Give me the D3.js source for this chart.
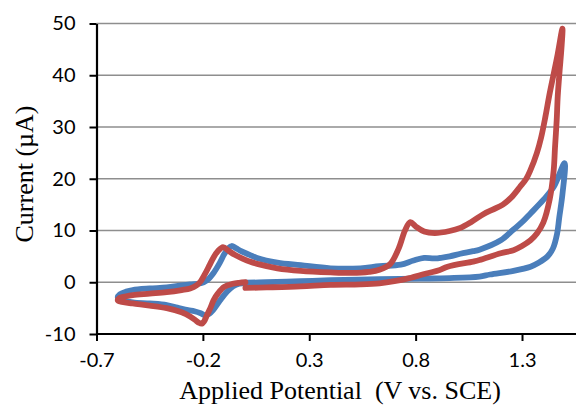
<!DOCTYPE html>
<html>
<head>
<meta charset="utf-8">
<script src="https://cdn.jsdelivr.net/npm/d3@7"></script>
<style>
  html, body { margin: 0; padding: 0; background: #fff; }
  svg { display: block; }
</style>
</head>
<body>
<svg id="chart" width="576" height="405"></svg>
<script>
// Cyclic voltammograms: potential (V vs. SCE) and current (µA), in scan order
const bluePotential = [
  0.00, -0.03, -0.058, -0.086, -0.119, -0.152, -0.17, -0.19, -0.21, -0.24, -0.27, -0.32, -0.37, -0.45, -0.53, -0.58, -0.60,
  -0.59, -0.56, -0.53, -0.45, -0.37, -0.30, -0.26, -0.21, -0.18, -0.15, -0.12, -0.10, -0.08, -0.065, -0.045, -0.02, 0.02, 0.055,
  0.15, 0.26, 0.40, 0.54, 0.63, 0.73, 0.79, 0.84, 0.89, 0.96, 1.01, 1.07, 1.10, 1.20, 1.26, 1.30, 1.34, 1.40, 1.45, 1.50,
  1.49, 1.475, 1.465, 1.445, 1.42, 1.38, 1.34, 1.26, 1.15, 1.10, 0.96, 0.82, 0.63, 0.40, 0.26, 0.10, 0.00
];
const blueCurrent = [
  -0.1, -0.3, -0.8, -1.8, -3.5, -5.4, -6.1, -6.4, -6.0, -5.6, -5.4, -4.9, -4.4, -4.1, -3.9, -3.4, -2.9,
  -2.3, -1.8, -1.5, -1.2, -1.0, -0.6, -0.4, -0.2, 0.4, 1.8, 3.8, 5.4, 6.6, 7.0, 6.6, 6.0, 5.3, 4.7,
  3.8, 3.3, 2.7, 2.7, 3.1, 3.4, 4.2, 4.7, 4.6, 5.0, 5.5, 6.0, 6.3, 8.1, 10.2, 11.6, 13.3, 15.9, 18.5, 23.0,
  17.0, 12.5, 9.4, 6.5, 5.0, 3.8, 3.0, 2.2, 1.5, 1.1, 0.8, 0.7, 0.6, 0.4, 0.2, 0.0, -0.1
];

const redPotential = [
  0.00, -0.03, -0.06, -0.10, -0.13, -0.15, -0.165, -0.18, -0.195, -0.205, -0.22, -0.23, -0.26, -0.30, -0.37, -0.45, -0.53, -0.58, -0.60,
  -0.59, -0.56, -0.53, -0.45, -0.37, -0.30, -0.26, -0.23, -0.21, -0.19, -0.17, -0.15, -0.13, -0.105, -0.08, -0.05, -0.02, 0.02, 0.06,
  0.15, 0.26, 0.40, 0.50, 0.58, 0.63, 0.68, 0.72, 0.75, 0.775, 0.80, 0.84, 0.89, 0.96, 1.01, 1.06, 1.12, 1.16, 1.21, 1.25, 1.29,
  1.32, 1.34, 1.37, 1.39, 1.41, 1.43, 1.465, 1.49,
  1.485, 1.477, 1.468, 1.463, 1.455, 1.449, 1.43, 1.40, 1.37, 1.34, 1.30, 1.26, 1.20, 1.10, 1.07, 0.95, 0.91, 0.85, 0.77, 0.70,
  0.63, 0.54, 0.40, 0.26, 0.10, 0.00
];
const redCurrent = [
  0.0, -0.1, -0.3, -0.9, -2.2, -3.5, -5.0, -6.3, -7.6, -8.0, -7.8, -7.5, -6.6, -5.8, -5.0, -4.5, -4.1, -3.8, -3.5,
  -3.0, -2.7, -2.5, -2.2, -1.9, -1.5, -1.2, -0.6, 0.2, 1.6, 3.2, 4.8, 6.0, 6.8, 6.1, 5.3, 4.7, 4.0, 3.5,
  2.7, 2.2, 1.9, 1.8, 2.0, 2.4, 3.5, 6.5, 10.0, 11.6, 10.8, 9.8, 9.5, 9.9, 10.5, 11.6, 13.2, 14.0, 15.0, 16.4, 18.4,
  20.0, 21.7, 25.0, 28.0, 32.0, 36.5, 43.5, 49.0,
  45.0, 41.0, 36.0, 31.3, 26.0, 21.7, 16.0, 11.5, 9.4, 8.1, 7.0, 6.2, 5.6, 4.3, 4.0, 3.0, 2.3, 1.7, 0.8, 0.2,
  -0.2, -0.4, -0.5, -0.8, -1.0, -1.1
];

const xTicks = [-0.7, -0.2, 0.3, 0.8, 1.3];
const xTickLabels = ["-0.7", "-0.2", "0.3", "0.8", "1.3"];
const yTicks = [-10, 0, 10, 20, 30, 40, 50];
const yTickLabels = ["-10", "0", "10", "20", "30", "40", "50"];

const svg = d3.select("#chart");
const x = d3.scaleLinear().domain([-0.7, 1.55]).range([96.5, 575.2]);
const y = d3.scaleLinear().domain([-10, 50]).range([334, 23.5]);
const tickFont = "Lato, 'Open Sans', sans-serif";
const titleFont = "'Liberation Serif', 'Times New Roman', serif";

// horizontal gridlines
svg.append("g")
  .selectAll("line")
  .data(yTicks.filter(d => d !== -10))
  .join("line")
  .attr("x1", x.range()[0]).attr("x2", 576)
  .attr("y1", d => y(d)).attr("y2", d => y(d))
  .attr("stroke", "#8e8e8e").attr("stroke-width", 1.6);

// axes
const yAxis = svg.append("g")
  .attr("transform", `translate(${x.range()[0]},0)`)
  .call(d3.axisLeft(y).tickValues(yTicks).tickFormat((d, i) => yTickLabels[i]).tickSize(7).tickSizeOuter(0).tickPadding(14));
const xAxis = svg.append("g")
  .attr("transform", `translate(0,${y(-10)})`)
  .call(d3.axisBottom(x).tickValues(xTicks).tickFormat((d, i) => xTickLabels[i]).tickSize(7).tickSizeOuter(0).tickPadding(12));

[xAxis, yAxis].forEach(g => {
  g.select(".domain").attr("stroke", "#000").attr("stroke-width", 2.2);
  g.selectAll(".tick line").attr("stroke", "#000").attr("stroke-width", 2);
  g.selectAll(".tick text")
    .attr("fill", "#000")
    .style("font-family", tickFont)
    .style("font-size", "20px");
});
xAxis.select(".domain").attr("d", `M${x.range()[0]},0H576`);

// voltammogram traces
const line = d3.line().x(d => x(d[0])).y(d => y(d[1])).curve(d3.curveCatmullRom.alpha(0.5));
const series = [
  { v: bluePotential, i: blueCurrent, color: "#4a7ebb" },
  { v: redPotential, i: redCurrent, color: "#be4b48" }
];
svg.append("g")
  .selectAll("path")
  .data(series)
  .join("path")
  .attr("d", s => line(s.v.map((v, k) => [v, s.i[k]])))
  .attr("fill", "none")
  .attr("stroke", s => s.color)
  .attr("stroke-width", 5.8)
  .attr("stroke-linejoin", "round")
  .attr("stroke-linecap", "round");

// axis titles
svg.append("text")
  .attr("x", 340).attr("y", 399)
  .attr("text-anchor", "middle")
  .style("font-family", titleFont)
  .style("font-size", "26px")
  .style("white-space", "pre")
  .text("Applied Potential  (V vs. SCE)");

svg.append("text")
  .attr("transform", "translate(33,174) rotate(-90)")
  .attr("text-anchor", "middle")
  .style("font-family", titleFont)
  .style("font-size", "26px")
  .text("Current (µA)");
</script>
</body>
</html>
